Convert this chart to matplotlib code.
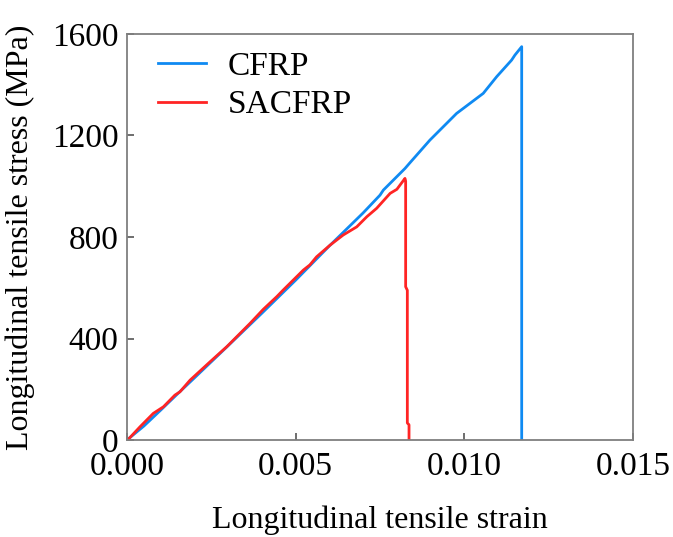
import numpy as np
import matplotlib.pyplot as plt

plt.rcParams['font.family'] = ['Liberation Serif', 'DejaVu Serif']

# CFRP curve (strain, stress in MPa)
cfrp_strain = [0.0, 0.0005, 0.001, 0.0015, 0.002, 0.003, 0.004, 0.005, 0.006, 0.007,
               0.0075, 0.0076, 0.00824, 0.00839, 0.00898, 0.00977, 0.01056, 0.01096,
               0.0114, 0.0115, 0.0117, 0.0117]
cfrp_stress = [0, 55, 118, 182, 245, 372, 500, 630, 765, 895,
               965, 985, 1070, 1093, 1182, 1287, 1366, 1432,
               1497, 1517, 1550, 0]

# SACFRP curve
sacfrp_strain = [0.0, 0.00004, 0.000385, 0.00078, 0.00108, 0.00142, 0.00157, 0.00187,
                 0.00246, 0.00296, 0.00365, 0.00404, 0.00444, 0.00463, 0.00523, 0.00542,
                 0.00562, 0.00602, 0.00641, 0.00681, 0.00711, 0.0074, 0.0078, 0.008,
                 0.00824, 0.00826, 0.00826, 0.00831, 0.00831, 0.00836, 0.00836]
sacfrp_stress = [0, 3, 52, 105, 131, 177, 190, 236,
                 308, 368, 460, 515, 565, 591, 670, 690,
                 722, 768, 808, 840, 880, 913, 972, 988,
                 1031, 1020, 604, 590, 67, 60, 0]

fig = plt.figure(figsize=(6.73, 5.37), dpi=100)
ax = fig.add_axes([0.1887, 0.1806, 0.7519, 0.7561])

ax.plot(cfrp_strain, cfrp_stress, color='#0f8af2', lw=2.0, label='CFRP')
ax.plot(sacfrp_strain, sacfrp_stress, color='#ff2424', lw=2.0, label='SACFRP')

ax.set_xlim(0, 0.015)
ax.set_ylim(0, 1600)
ax.set_xticks([0.0, 0.005, 0.010, 0.015])
ax.set_xticklabels(['0.000', '0.005', '0.010', '0.015'])
ax.set_yticks([0, 400, 800, 1200, 1600])

for s in ax.spines.values():
    s.set_color('#7f7f7f')
    s.set_linewidth(1.3)
ax.tick_params(direction='in', length=5, width=1.2, color='#555555',
               labelsize=24, top=False, right=False)
ax.tick_params(axis='x', pad=8)
ax.tick_params(axis='y', pad=6)

ax.set_xlabel('Longitudinal tensile strain', fontsize=23, labelpad=17)
ax.set_ylabel('Longitudinal tensile stress (MPa)', fontsize=23, labelpad=12)

ax.legend(loc='upper left', bbox_to_anchor=(0.061, 0.958), frameon=False,
          fontsize=24, borderpad=0, borderaxespad=0, handlelength=1.45,
          handletextpad=0.65, labelspacing=0.25)

plt.savefig('out.png', dpi=100)
